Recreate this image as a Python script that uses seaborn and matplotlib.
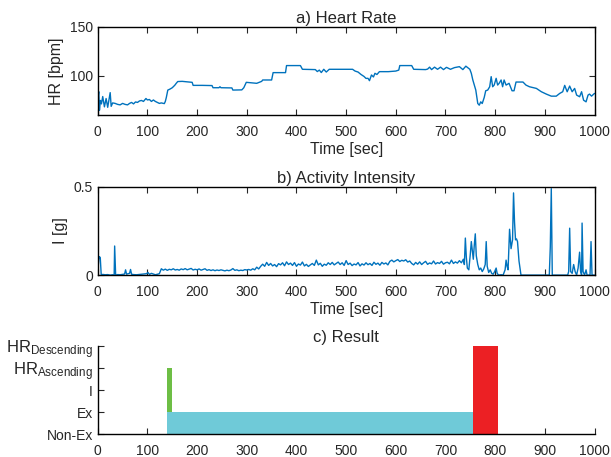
import matplotlib
matplotlib.use('Agg')
import matplotlib.pyplot as plt
import seaborn as sns
import pandas as pd

# heart rate trace (sec, bpm)
hr_time = [0, 2, 3.4, 5.4, 7.4, 10, 13.4, 16.8, 20, 25, 27, 30, 35, 40, 45, 50, 55, 60, 64, 68,
           72, 76, 80, 84, 88, 92, 97, 100, 104, 108, 112, 116, 120, 124, 128, 134, 136, 138, 141, 145,
           150, 155, 158, 161, 170, 180, 190, 192, 210, 230, 232, 244, 246, 248, 270, 272, 290, 294, 299, 310,
           320, 325, 330, 332, 350, 353, 378, 380, 408, 412, 438, 442, 446, 450, 455, 460, 466, 490, 513, 518,
           524, 530, 536, 540, 544, 547, 551, 555, 558, 562, 567, 585, 600, 606, 608, 632, 636, 660, 664, 668,
           672, 678, 684, 690, 696, 702, 710, 718, 728, 735, 741, 746, 749, 752, 755, 758, 761, 765, 768, 771,
           774, 778, 781, 785, 789, 792, 795, 798, 802, 805, 808, 812, 815, 818, 822, 828, 834, 838, 842, 856,
           862, 869, 883, 893, 903, 913, 923, 930, 936, 940, 945, 950, 955, 960, 964, 970, 974, 978, 983, 987,
           990, 994, 1000]
hr_bpm = [76, 84, 65, 75, 71.5, 79, 68.5, 77, 68, 83, 69, 72.5, 72, 71, 70.5, 72, 71, 70.5, 72, 73,
          71.5, 73.5, 73, 74.5, 75, 74, 77, 75.5, 76, 74, 75.5, 74, 73, 72, 72.5, 71.8, 74, 78, 85.6, 86.5,
          88, 90.5, 92.5, 94.3, 94.5, 94, 93.5, 90.4, 90.4, 90.2, 88, 88, 89, 88, 87.8, 85.6, 85.8, 88, 93.5, 93,
          92.5, 93.5, 94.5, 95.9, 95.9, 103.4, 103.4, 110.6, 110.6, 106.8, 106.5, 104.5, 106, 103.5, 106.8, 104, 106.8, 106.8, 106.8, 105,
          104, 101.5, 99.5, 97.5, 97.6, 95.2, 101, 99, 102.7, 101.5, 104.4, 104.4, 105, 106, 110.6, 110.6, 106.8, 106.5, 107, 109,
          106.5, 109, 106.8, 109, 106.5, 108.8, 106.8, 108.5, 109.5, 106.5, 110, 108, 106.8, 102.7, 96, 90.7, 85.6, 71.9, 70.2, 73.6,
          71.9, 78.1, 84.9, 85.6, 89, 99.3, 89, 90.7, 97.6, 90.7, 92.5, 95.9, 89, 95.9, 90.7, 92.5, 84.9, 84.9, 93.8, 93.8,
          90.7, 89, 87.3, 83.9, 81.5, 79.4, 79.4, 82.2, 83.9, 90.4, 83.9, 89.7, 83.9, 87.3, 80.5, 78.8, 83.9, 75.3, 73.6, 80.5,
          81.5, 79.4, 82.2]

# activity intensity trace (sec, g)
act_time = [0, 2, 3, 5, 7, 10, 15, 20, 25, 30, 33, 34, 36, 40, 45, 50, 54, 56, 58, 61,
            64, 66, 68, 72, 78, 85, 92, 98, 101, 104, 108, 112, 116, 120, 124,
            128, 132, 136, 140, 144, 148, 152, 156, 160, 164, 168, 172, 176, 180, 184, 188, 192, 196, 200, 204,
            208, 212, 216, 220, 224, 228, 232, 236, 240, 244, 248, 252, 256, 260, 264, 268, 272, 276, 280, 284,
            288, 292, 296, 300, 304, 308, 312, 316, 320, 324, 328,
            332, 336, 340, 344, 348, 352, 356, 360, 364, 368, 372, 376, 380, 384, 388, 392, 396, 400, 404, 408,
            412, 416, 420, 424, 428, 432, 436, 440, 444, 448, 452, 456, 460, 464, 468, 472, 476, 480, 484, 488,
            492, 496, 500, 504, 508, 512, 516, 520, 524, 528, 532, 536, 540, 544, 548, 552, 556, 560, 564, 568,
            572, 576, 580, 584,
            588, 592, 596, 600, 604, 608, 612, 616, 620, 624, 628,
            632, 636, 640, 644, 648, 652, 656, 660, 664, 668, 672, 676, 680, 684, 688, 692, 696, 700, 704, 708,
            712, 716, 720, 724, 728, 732, 736,
            738, 740, 742, 744, 747, 750, 752, 754, 756, 758, 760, 762, 765, 768, 771, 774, 777, 780, 782, 784,
            787, 790, 793, 796, 799, 802, 804, 807, 812, 816, 820, 822, 824, 826, 829, 832, 835, 837, 839, 841,
            843, 845, 848, 852, 860, 880, 900, 909, 911, 913, 915, 930, 946, 948, 950, 952, 955, 958, 961, 964,
            967, 970, 972, 974, 975, 977, 980, 983, 985, 988, 991, 993, 995, 1000]
act_g = [0.02, 0.09, 0.105, 0.1, 0.0, 0.004, 0.002, 0.003, 0.0, 0.002, 0.0, 0.165, 0.0, 0.003, 0.002, 0.004, 0.006, 0.03, 0.005, 0.008,
         0.01, 0.032, 0.005, 0.003, 0.002, 0.004, 0.006, 0.008, 0.015, 0.004, 0.01, 0.006, 0.002, 0.005, 0.008,
         0.036, 0.028, 0.034, 0.027, 0.033, 0.03, 0.036, 0.029, 0.032, 0.028, 0.035, 0.031, 0.037, 0.03, 0.034, 0.038, 0.029, 0.033, 0.03, 0.035,
         0.028, 0.032, 0.036, 0.027, 0.031, 0.026, 0.03, 0.025, 0.029, 0.026, 0.03, 0.027, 0.024, 0.028, 0.025, 0.029, 0.037, 0.027, 0.03, 0.025,
         0.028, 0.026, 0.031, 0.029, 0.032, 0.028, 0.036, 0.03, 0.045, 0.035, 0.05,
         0.062, 0.05, 0.072, 0.055, 0.066, 0.052, 0.06, 0.048, 0.065, 0.058, 0.07, 0.053, 0.075, 0.06, 0.068, 0.055, 0.071, 0.05, 0.063, 0.057,
         0.074, 0.052, 0.061, 0.049, 0.058, 0.066, 0.055, 0.085, 0.058, 0.067, 0.05, 0.062, 0.056, 0.07, 0.06, 0.072, 0.058, 0.066, 0.074, 0.06,
         0.07, 0.055, 0.082, 0.06, 0.068, 0.054, 0.063, 0.058, 0.071, 0.052, 0.064, 0.057, 0.07, 0.059, 0.066, 0.055, 0.073, 0.061, 0.068, 0.056,
         0.072, 0.063, 0.069, 0.058,
         0.078, 0.085, 0.075, 0.082, 0.088, 0.077, 0.084, 0.08, 0.087, 0.074, 0.08,
         0.066, 0.058, 0.072, 0.062, 0.075, 0.06, 0.07, 0.078, 0.061, 0.069, 0.064, 0.08, 0.063, 0.071, 0.066, 0.078, 0.062, 0.07, 0.073, 0.064,
         0.085, 0.066, 0.075, 0.068, 0.082, 0.07, 0.09,
         0.06, 0.21, 0.1, 0.04, 0.03, 0.12, 0.19, 0.14, 0.09, 0.17, 0.234, 0.11, 0.06, 0.03, 0.04, 0.02, 0.035, 0.06, 0.19, 0.05,
         0.015, 0.03, 0.01, 0.005, 0.02, 0.04, 0.01, 0.0, 0.002, 0.0, 0.03, 0.085, 0.05, 0.03, 0.26, 0.15, 0.2, 0.466, 0.3, 0.2,
         0.205, 0.19, 0.08, 0.0, 0.0, 0.0, 0.0, 0.0, 0.16, 0.49, 0.0, 0.0, 0.0, 0.02, 0.266, 0.02, 0.01, 0.06, 0.02, 0.0,
         0.04, 0.13, 0.02, 0.0, 0.295, 0.02, 0.0, 0.03, 0.0, 0.0, 0.0, 0.19, 0.0, 0.0]

# detection result segments
res_start = [140, 140, 755]
res_end = [150, 755, 805]
res_level = [3, 1, 4]
res_colors = ['#6DBE45', '#6FCAD8', '#EC2024']
res_labels = ['Non-Ex', 'Ex', 'I', r'HR$_{\mathrm{Ascending}}$', r'HR$_{\mathrm{Descending}}$']

sns.set_style('ticks')
plt.rcParams['font.family'] = ['Liberation Sans', 'DejaVu Sans']
plt.rcParams['mathtext.fontset'] = 'custom'
plt.rcParams['mathtext.rm'] = 'Liberation Sans'
plt.rcParams['mathtext.default'] = 'regular'
plt.rcParams['xtick.direction'] = 'in'
plt.rcParams['ytick.direction'] = 'in'

line_color = '#0072BD'
xticks = list(range(0, 1001, 100))

fig = plt.figure(figsize=(6.11, 4.57), dpi=100)
ax1 = fig.add_axes([0.160, 0.748, 0.813, 0.193])
ax2 = fig.add_axes([0.160, 0.398, 0.813, 0.193])
ax3 = fig.add_axes([0.160, 0.050, 0.813, 0.193])

hr_df = pd.DataFrame({'t': hr_time, 'hr': hr_bpm})
sns.lineplot(data=hr_df, x='t', y='hr', ax=ax1, color=line_color, lw=1.0, estimator=None, sort=False)
ax1.set_xlim(0, 1000)
ax1.set_ylim(60, 150)
ax1.set_yticks([100, 150])
ax1.set_xticks(xticks)
ax1.set_xlabel('Time [sec]', fontsize=11.5, labelpad=2)
ax1.set_ylabel('HR [bpm]', fontsize=11.5, labelpad=4)
ax1.set_title('a) Heart Rate', fontsize=12, pad=3)

act_df = pd.DataFrame({'t': act_time, 'g': act_g})
sns.lineplot(data=act_df, x='t', y='g', ax=ax2, color=line_color, lw=1.0, estimator=None, sort=False)
ax2.set_xlim(0, 1000)
ax2.set_ylim(0, 0.5)
ax2.set_yticks([0, 0.5])
ax2.set_yticklabels(['0', '0.5'])
ax2.set_xticks(xticks)
ax2.set_xlabel('Time [sec]', fontsize=11.5, labelpad=2)
ax2.set_ylabel('I [g]', fontsize=11.5, labelpad=4)
ax2.set_title('b) Activity Intensity', fontsize=12, pad=3)

for ax in (ax1, ax2):
    ax.tick_params(top=True, right=True, labelsize=10, length=4, width=0.8)
    ax.tick_params(axis='x', pad=7)
    for s in ax.spines.values():
        s.set_linewidth(1.0)
        s.set_color('black')

for s, e, lv, c in zip(res_start, res_end, res_level, res_colors):
    ax3.bar(s, lv, width=e - s, align='edge', color=c, linewidth=0)
ax3.set_xlim(0, 1000)
ax3.set_ylim(0, 4)
ax3.set_xticks(xticks)
ax3.set_yticks(range(len(res_labels)))
ax3.set_yticklabels(res_labels)
ax3.set_title('c) Result', fontsize=12, pad=3)
ax3.tick_params(labelsize=10, length=4, width=0.8)
ax3.tick_params(axis='x', pad=7)
for lab in ax3.get_yticklabels():
    if 'HR' in lab.get_text():
        lab.set_fontsize(12)
sns.despine(ax=ax3)
for s in ('left', 'bottom'):
    ax3.spines[s].set_linewidth(1.0)
    ax3.spines[s].set_color('black')

fig.savefig('out.png', dpi=100)
